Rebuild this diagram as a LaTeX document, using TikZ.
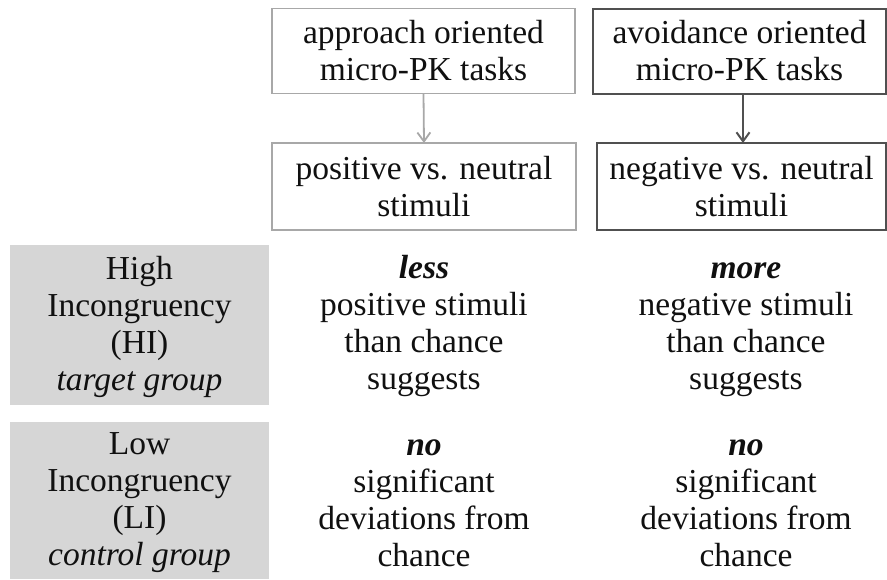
\documentclass[tikz,border=0pt]{standalone}
\usepackage{fontspec}
\setmainfont{Liberation Serif}
\usetikzlibrary{arrows.meta}
\definecolor{lightedge}{HTML}{A8A8A8}
\definecolor{darkedge}{HTML}{505050}
\definecolor{grayfill}{HTML}{D6D6D6}
\definecolor{txt}{HTML}{101010}
\newcommand{\ts}{\rule{0pt}{27pt}}
\newcommand{\bs}{\rule[-5pt]{0pt}{5pt}}
\tikzset{
  every node/.style={inner sep=0pt, outer sep=0pt, text=txt,
    font=\fontsize{33.5}{37}\selectfont, align=center},
  lightbox/.style={draw=lightedge, line width=1.8pt},
  darkbox/.style={draw=darkedge, line width=2pt},
  graybox/.style={fill=grayfill},
  lightarrow/.style={draw=lightedge, line width=1.8pt, -{Straight Barb[length=9pt,width=13pt,line width=1.8pt]}},
  darkarrow/.style={draw=darkedge, line width=2pt, -{Straight Barb[length=9pt,width=13pt,line width=2pt]}},
}
\begin{document}
\begin{tikzpicture}[x=1pt,y=-1pt]
\useasboundingbox (0,0) rectangle (887,579);
% top boxes
\node[lightbox, minimum width=303pt, minimum height=85pt] (appr) at (423.5,51) {\ts approach oriented\\micro-PK tasks\bs};
\node[darkbox, minimum width=293pt, minimum height=85pt] (avoid) at (739.5,51) {\ts avoidance oriented\\micro-PK tasks\bs};
\node[lightbox, minimum width=304pt, minimum height=87pt] (pos) at (424,186.5) {\ts positive vs. neutral\\stimuli\bs};
\node[darkbox, minimum width=289pt, minimum height=87pt] (neg) at (741.5,186.5) {\ts negative vs. neutral\\stimuli\bs};
\draw[lightarrow] (appr.south) -- (pos.north);
\draw[darkarrow] (avoid.south -| 743,0) -- (neg.north -| 743,0);
% row labels
\node[graybox, minimum width=259pt, minimum height=160pt] (hi) at (139.5,325) {\ts High\\Incongruency\\(HI)\\\textit{target group}\bs};
\node[graybox, minimum width=259pt, minimum height=157pt] (li) at (139.5,500.5) {\ts Low\\Incongruency\\(LI)\\\textit{control group}\bs};
% cells
\node (c11) at (424,324.5) {\ts\textbf{\textit{less}}\\positive stimuli\\than chance\\suggests\bs};
\node (c12) at (746,324.5) {\ts\textbf{\textit{more}}\\negative stimuli\\than chance\\suggests\bs};
\node (c21) at (424,499.5) {\ts\textbf{\textit{no}}\\significant\\deviations from\\chance\bs};
\node (c22) at (746,499.5) {\ts\textbf{\textit{no}}\\significant\\deviations from\\chance\bs};
\end{tikzpicture}
\end{document}
